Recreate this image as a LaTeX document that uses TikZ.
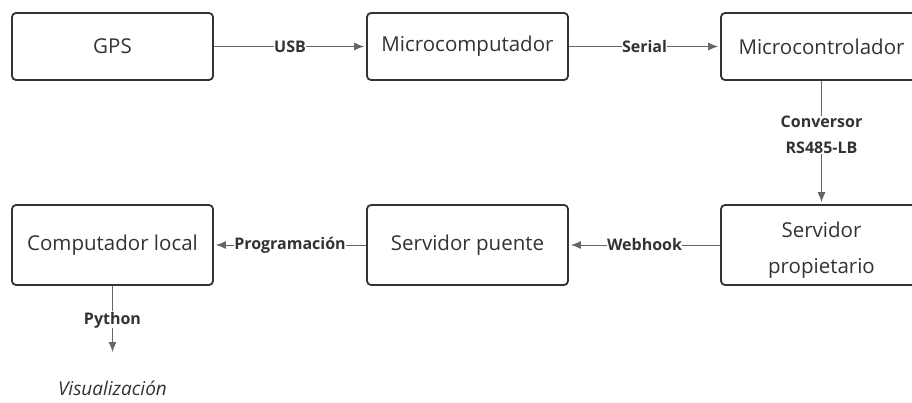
\documentclass[tikz,border=0pt]{standalone}
\usepackage{fontspec}
\setmainfont{Open Sans}
\usetikzlibrary{arrows.meta}
\definecolor{ink}{HTML}{333333}
\definecolor{wire}{HTML}{666666}
\begin{document}
\begin{tikzpicture}[x=1pt,y=-1pt,
  box/.style={draw=ink,line width=1.8pt,rounded corners=4pt,text=ink,font=\fontsize{20.5}{36}\selectfont,align=center,inner sep=0pt},
  conn/.style={draw=wire,line width=0.9pt,-{Latex[length=10pt,width=8pt]},shorten >=2pt},
  lab/.style={fill=white,text=ink,font=\fontsize{16}{26}\selectfont\bfseries,inner sep=0.5pt,align=center}]
\useasboundingbox (0,0) rectangle (912,403);
\clip (0,0) rectangle (912,403);
\node[box,minimum width=201pt,minimum height=67pt] (gps) at (112.5,46.5) {GPS};
\node[box,minimum width=201pt,minimum height=67pt] (mcomp) at (467.5,46.5) {Microcomputador};
\node[box,minimum width=201pt,minimum height=67pt] (mctrl) at (821.5,46.5) {Microcontrolador};
\node[box,minimum width=201pt,minimum height=80pt] (local) at (112.5,245) {Computador local};
\node[box,minimum width=201pt,minimum height=80pt] (puente) at (467.5,245) {Servidor puente};
\node[box,minimum width=201pt,minimum height=80pt] (prop) at (821.5,245) {};
\node[text=ink,font=\fontsize{20.5}{36}\selectfont,align=center,inner sep=0pt] (propt) at (821.5,250) {Servidor\\propietario};
\coordinate (vend) at (112.5,354);
\node[text=ink,font=\fontsize{19}{22}\selectfont\itshape] (vis) at (112.5,388) {Visualización};
\draw[conn] (gps) -- node[lab] {USB} (mcomp);
\draw[conn] (mcomp) -- node[lab] {Serial} (mctrl);
\draw[conn] (mctrl) -- node[lab,pos=0.44] {Conversor\\RS485-LB} (prop);
\draw[conn] (prop) -- node[lab] {Webhook} (puente);
\draw[conn] (puente) -- node[lab] {Programación} (local);
\draw[conn] (local) -- node[lab,pos=0.5] {Python} (vend);
\end{tikzpicture}
\end{document}
